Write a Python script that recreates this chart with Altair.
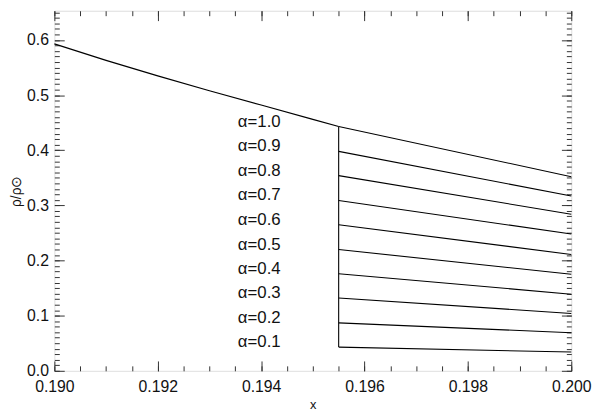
import altair as alt
import pandas as pd

# ---- data ----
curve_x = [0.190, 0.191, 0.192, 0.193, 0.194, 0.195, 0.1955]
curve_y = [0.593, 0.563, 0.535, 0.508, 0.482, 0.456, 0.443]

alphas = [1.0, 0.9, 0.8, 0.7, 0.6, 0.5, 0.4, 0.3, 0.2, 0.1]
labels = ["α=1.0", "α=0.9", "α=0.8", "α=0.7", "α=0.6",
          "α=0.5", "α=0.4", "α=0.3", "α=0.2", "α=0.1"]
branch_start_y = [0.443, 0.398, 0.354, 0.309, 0.265, 0.220, 0.176, 0.132, 0.087, 0.043]
branch_end_y = [0.352, 0.317, 0.284, 0.248, 0.211, 0.175, 0.139, 0.104, 0.069, 0.034]
shock_x = 0.1955
end_x = 0.200
label_x = 0.19355

x_major = [0.190, 0.192, 0.194, 0.196, 0.198, 0.200]
y_major = [0.0, 0.1, 0.2, 0.3, 0.4, 0.5, 0.6]
x_minor = [round(0.190 + 0.0005 * i, 4) for i in range(21)]
y_minor = [round(0.01 * i, 2) for i in range(66)]

X_DOMAIN = [0.190, 0.200]
Y_DOMAIN = [0.0, 0.653]

FONT = "Liberation Sans"
INK = "#111111"

curve_df = pd.DataFrame({"x": curve_x, "y": curve_y})
rows = []
for a, s, e in zip(alphas, branch_start_y, branch_end_y):
    rows.append({"alpha": a, "x": shock_x, "y": s})
    rows.append({"alpha": a, "x": end_x, "y": e})
branch_df = pd.DataFrame(rows)
shock_df = pd.DataFrame({"x": [shock_x], "y": [min(branch_start_y)], "y2": [max(branch_start_y)]})
label_df = pd.DataFrame({"x": [label_x] * len(labels), "y": branch_start_y, "label": labels})

xs = alt.Scale(domain=X_DOMAIN, nice=False, zero=False)
ys = alt.Scale(domain=Y_DOMAIN, nice=False, zero=False)


def ax(orient, values, size, labels_on=False, title=None, fmt=None, pad=6,
       tpad=4, tsize=14):
    kw = dict(orient=orient, values=values, tickSize=size, offset=-size,
              domain=False, grid=False, labels=labels_on, ticks=True,
              tickColor="#333333", tickWidth=1, tickOpacity=1)
    if labels_on:
        kw.update(labelFont=FONT, labelFontSize=16, labelColor=INK,
                  labelPadding=pad, format=fmt, labelFlush=False,
                  labelOverlap=False)
    if title is not None:
        kw.update(title=title, titleFont=FONT, titleFontSize=tsize,
                  titleFontWeight="normal", titleColor=INK, titlePadding=tpad)
    else:
        kw.update(title=None)
    return alt.Axis(**kw)


curve = alt.Chart(curve_df).mark_line(color="black", strokeWidth=1.2).encode(
    x=alt.X("x:Q", scale=xs,
            axis=ax("bottom", x_major, 10, True, "x", ".3f", 8, 4, 13)),
    y=alt.Y("y:Q", scale=ys,
            axis=ax("left", y_major, 10, True, "ρ/ρ⊙", ".1f", 6, 3, 14)),
)

branches = alt.Chart(branch_df).mark_line(color="black", strokeWidth=1.1).encode(
    x=alt.X("x:Q", scale=xs, axis=ax("bottom", x_minor, 5)),
    y=alt.Y("y:Q", scale=ys, axis=ax("left", y_minor, 5)),
    detail="alpha:N",
)

shock = alt.Chart(shock_df).mark_rule(color="black", strokeWidth=1.1).encode(
    x=alt.X("x:Q", scale=xs, axis=ax("top", x_major, 10)),
    y=alt.Y("y:Q", scale=ys, axis=ax("right", y_major, 10)),
    y2="y2:Q",
)

text = alt.Chart(label_df).mark_text(
    align="left", baseline="alphabetic", font=FONT, fontSize=17, color=INK
).encode(
    x=alt.X("x:Q", scale=xs, axis=ax("top", x_minor, 5)),
    y=alt.Y("y:Q", scale=ys, axis=ax("right", y_minor, 5)),
    text="label:N",
)

chart = alt.layer(curve, branches, shock, text).resolve_axis(
    x="independent", y="independent"
).properties(
    width=524,
    height=365,
    autosize=alt.AutoSizeParams(type="none"),
    padding={"left": 47, "top": 0, "right": 21, "bottom": 41},
).configure_view(stroke=INK, strokeWidth=1).configure(background="white")

chart.save("out.html", embed_options={"renderer": "svg", "actions": False})
